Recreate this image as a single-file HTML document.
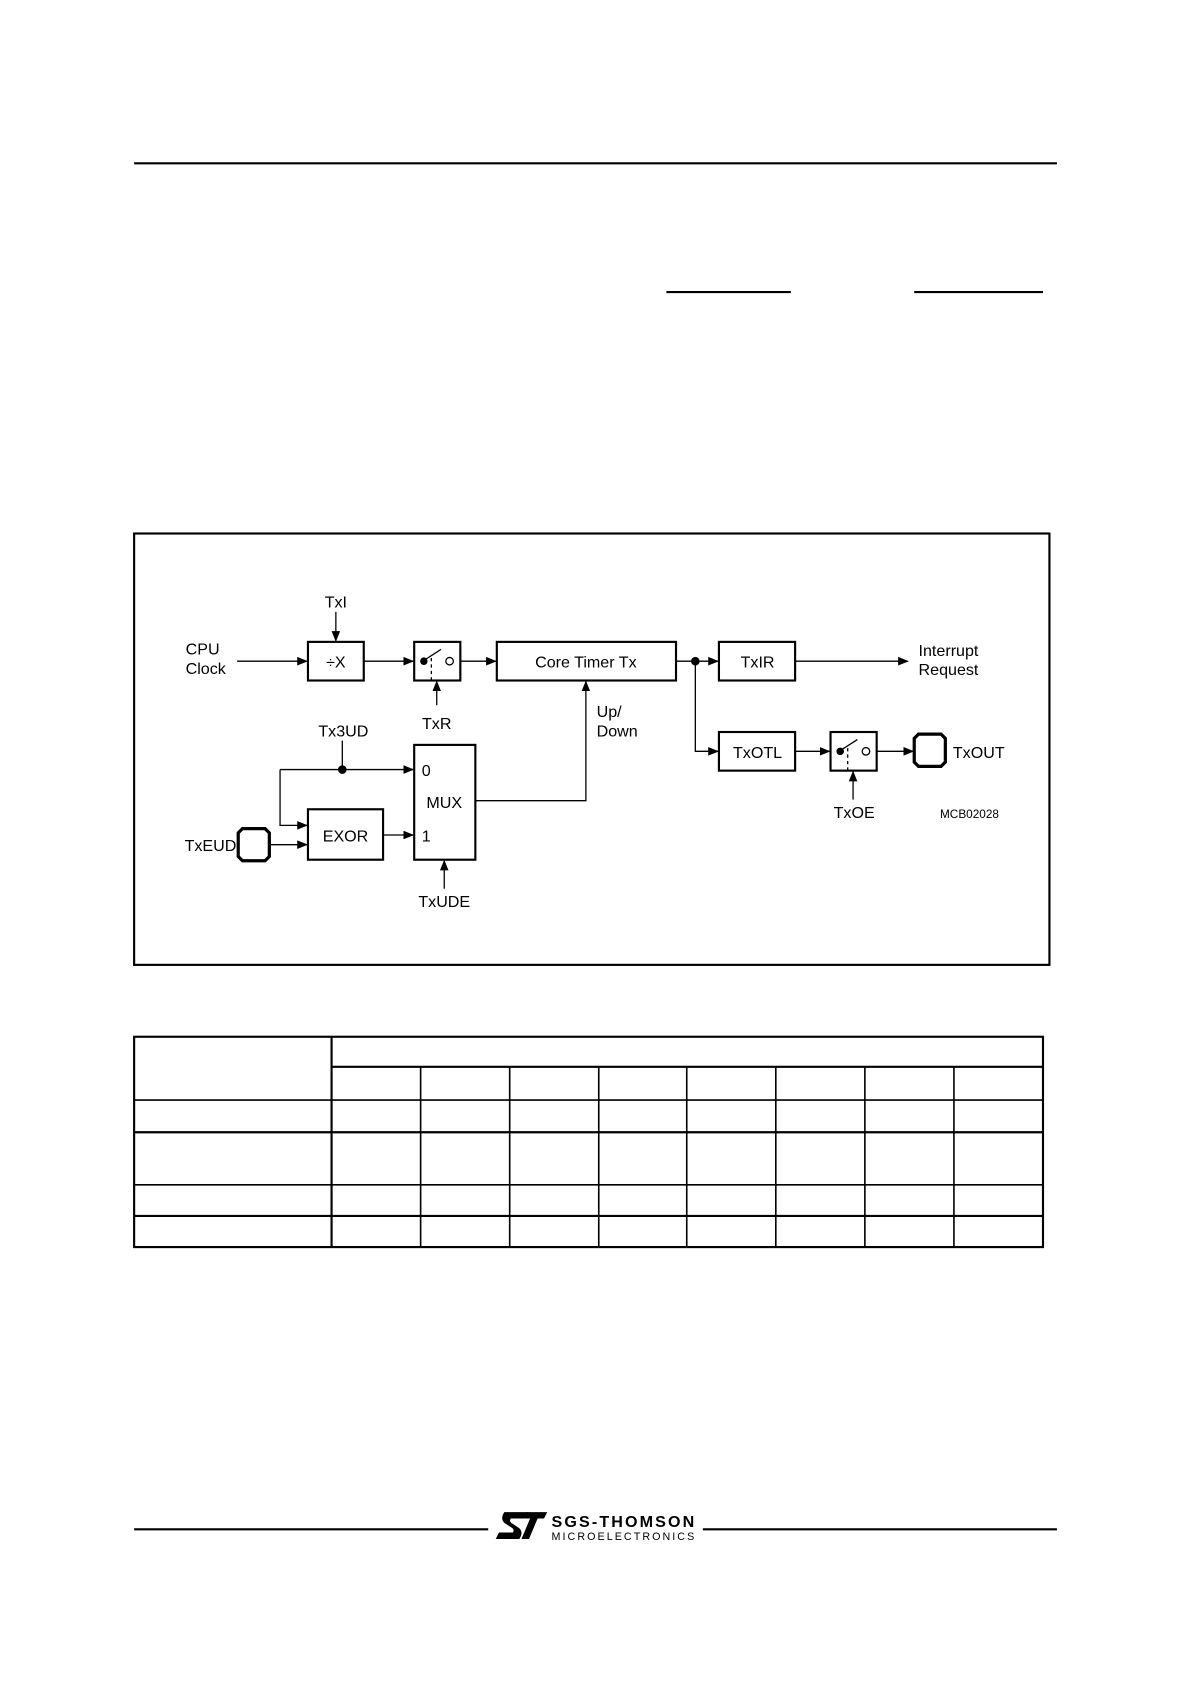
<!DOCTYPE html>
<html><head><meta charset="utf-8"><style>
html,body{margin:0;padding:0;background:#fff}
svg{display:block}
text{font-family:"Liberation Sans",sans-serif;font-size:15px;fill:#000}
</style></head><body>
<svg width="1190" height="1684" viewBox="0 0 1109 1569" xmlns="http://www.w3.org/2000/svg">
<defs><marker id="a" markerWidth="10" markerHeight="10" refX="9" refY="5" orient="auto" markerUnits="userSpaceOnUse"><path d="M0,1 L10,5 L0,9 Z" fill="#000"/></marker></defs>
<g stroke="#000" fill="none">
<line x1="125" y1="152" x2="985" y2="152" stroke-width="2"/>
<line x1="621" y1="272" x2="737" y2="272" stroke-width="2"/>
<line x1="852" y1="272" x2="972" y2="272" stroke-width="2"/>
<rect x="125" y="497" width="853" height="402" stroke-width="2"/>
<!-- table -->
<rect x="125" y="966" width="847" height="196" stroke-width="2"/>
<line x1="309" y1="966" x2="309" y2="1162" stroke-width="2"/>
<line x1="309" y1="994" x2="972" y2="994" stroke-width="2"/>
<line x1="392" y1="994" x2="392" y2="1162" stroke-width="1.5"/>
<line x1="475" y1="994" x2="475" y2="1162" stroke-width="1.5"/>
<line x1="558" y1="994" x2="558" y2="1162" stroke-width="1.5"/>
<line x1="640" y1="994" x2="640" y2="1162" stroke-width="1.5"/>
<line x1="723" y1="994" x2="723" y2="1162" stroke-width="1.5"/>
<line x1="806" y1="994" x2="806" y2="1162" stroke-width="1.5"/>
<line x1="889" y1="994" x2="889" y2="1162" stroke-width="1.5"/>
<line x1="125" y1="1025" x2="972" y2="1025" stroke-width="1.5"/>
<line x1="125" y1="1055" x2="972" y2="1055" stroke-width="2"/>
<line x1="125" y1="1104" x2="972" y2="1104" stroke-width="1.5"/>
<line x1="125" y1="1133" x2="972" y2="1133" stroke-width="2"/>
<line x1="125" y1="1425" x2="455" y2="1425" stroke-width="2"/>
<line x1="655" y1="1425" x2="985" y2="1425" stroke-width="2"/>
<!-- diagram boxes -->
<g stroke-width="2">
<rect x="287" y="598" width="52" height="36"/>
<rect x="386" y="598" width="43" height="36"/>
<rect x="463" y="598" width="167" height="36"/>
<rect x="670" y="598" width="71" height="36"/>
<rect x="670" y="682" width="71" height="36"/>
<rect x="774" y="682" width="43" height="36"/>
<rect x="386" y="694" width="57" height="107"/>
<rect x="287" y="754" width="70" height="47"/>
</g>
<g stroke-width="3">
<path d="M856,684 L877,684 L881,688 L881,710 L877,714 L856,714 L852,710 L852,688 Z"/>
<path d="M226,772 L247,772 L251,776 L251,798 L247,802 L226,802 L222,798 L222,776 Z"/>
</g>
<g stroke-width="1.2">
<line x1="313" y1="570" x2="313" y2="597" marker-end="url(#a)"/>
<line x1="221" y1="616" x2="286" y2="616" marker-end="url(#a)"/>
<line x1="339" y1="616" x2="385" y2="616" marker-end="url(#a)"/>
<line x1="429" y1="616" x2="462" y2="616" marker-end="url(#a)"/>
<line x1="630" y1="616" x2="669" y2="616" marker-end="url(#a)"/>
<line x1="741" y1="616" x2="846" y2="616" marker-end="url(#a)"/>
<polyline points="648,616 648,700 669,700" marker-end="url(#a)"/>
<line x1="741" y1="700" x2="773" y2="700" marker-end="url(#a)"/>
<line x1="817" y1="700" x2="851" y2="700" marker-end="url(#a)"/>
<line x1="795" y1="745" x2="795" y2="719" marker-end="url(#a)"/>
<line x1="407" y1="657" x2="407" y2="635" marker-end="url(#a)"/>
<polyline points="443,746 546,746 546,635" marker-end="url(#a)"/>
<line x1="319" y1="690" x2="319" y2="717"/>
<line x1="261" y1="717" x2="385" y2="717" marker-end="url(#a)"/>
<polyline points="261,717 261,769 286,769" marker-end="url(#a)"/>
<line x1="357" y1="778" x2="385" y2="778" marker-end="url(#a)"/>
<line x1="251" y1="787" x2="286" y2="787" marker-end="url(#a)"/>
<line x1="414" y1="828" x2="414" y2="802" marker-end="url(#a)"/>
<!-- switch symbols -->
<line x1="394" y1="616" x2="411" y2="605"/>
<circle cx="419" cy="616" r="3.5"/>
<line x1="402" y1="613" x2="402" y2="634" stroke-dasharray="3,3"/>
<line x1="782" y1="700" x2="799" y2="689"/>
<circle cx="807" cy="700" r="3.5"/>
<line x1="790" y1="697" x2="790" y2="718" stroke-dasharray="3,3"/>
</g>
<circle cx="395" cy="616" r="3" fill="#000"/>
<circle cx="783" cy="700" r="3" fill="#000"/>
<circle cx="648" cy="616" r="3.5" fill="#000"/>
<circle cx="319" cy="717" r="3.5" fill="#000"/>
</g>
<text x="173" y="610">CPU</text>
<text x="173" y="628">Clock</text>
<text x="313" y="566" text-anchor="middle">TxI</text>
<text x="313" y="622" text-anchor="middle">÷X</text>
<text x="546" y="622" text-anchor="middle">Core  Timer  Tx</text>
<text x="706" y="622" text-anchor="middle">TxIR</text>
<text x="856" y="611">Interrupt</text>
<text x="856" y="629">Request</text>
<text x="407" y="679" text-anchor="middle">TxR</text>
<text x="556" y="668">Up/</text>
<text x="556" y="686">Down</text>
<text x="320" y="686" text-anchor="middle">Tx3UD</text>
<text x="706" y="706" text-anchor="middle">TxOTL</text>
<text x="888" y="706">TxOUT</text>
<text x="796" y="762" text-anchor="middle">TxOE</text>
<text x="876" y="762" style="font-size:11px">MCB02028</text>
<text x="393" y="723">0</text>
<text x="414" y="753" text-anchor="middle">MUX</text>
<text x="393" y="784">1</text>
<text x="322" y="784" text-anchor="middle">EXOR</text>
<text x="172" y="793">TxEUD</text>
<text x="414" y="845" text-anchor="middle">TxUDE</text>
<!-- logo -->
<path d="M470,1409 L492,1409 L489,1415 L476,1415 Q474,1418 478,1420 L484,1424 Q488,1428 484,1434 L462,1434 L465,1428 L478,1428 Q480,1425 476,1423 L470,1419 Q466,1415 470,1409 Z" fill="#000"/>
<path d="M491,1409 L510,1409 L507,1415 L501,1415 L493,1434 L486,1434 L494,1415 L489,1415 Z" fill="#000"/>
<text x="514" y="1423" style="font-size:15px;font-weight:bold" textLength="133">SGS-THOMSON</text>
<text x="514" y="1435" style="font-size:10px" textLength="133">MICROELECTRONICS</text>
</svg>
</body></html>
